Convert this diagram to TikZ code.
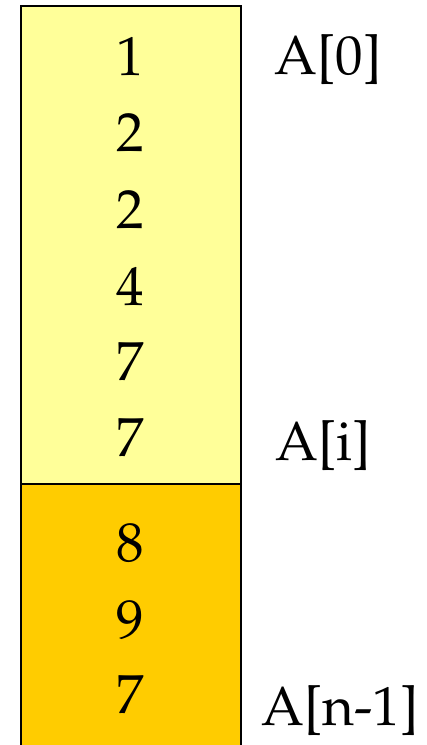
\documentclass[tikz,border=0pt]{standalone}
\usepackage[T1]{fontenc}
\usepackage{mathpazo}
\definecolor{lighty}{RGB}{255,255,153}
\definecolor{darky}{RGB}{255,204,0}
\begin{document}
\begin{tikzpicture}[x=1pt,y=-1pt,
  num/.style={font=\fontsize{55}{60}\selectfont},
  lab/.style={font=\fontsize{55}{60}\selectfont,anchor=west}]
\useasboundingbox (0,0) rectangle (427,745);
\fill[lighty] (21,6) rectangle (241,484);
\fill[darky] (21,484) rectangle (241,746);
\draw[line width=2pt] (21,750) -- (21,6) -- (241,6) -- (241,750);
\draw[line width=2pt] (21,484) -- (241,484);
\foreach \v/\y [count=\i] in {1/57,2/133,2/210,4/287,7/362,7/438,8/543,9/620,7/695}
  \node[num] (n\i) at (130,\y) {\v};
\node[lab] (a0) at (271,60) {A[0]};
\node[lab] (ai) at (272,446) {A[i]};
\node[lab] (an) at (258,711) {A[n-1]};
\end{tikzpicture}
\end{document}
